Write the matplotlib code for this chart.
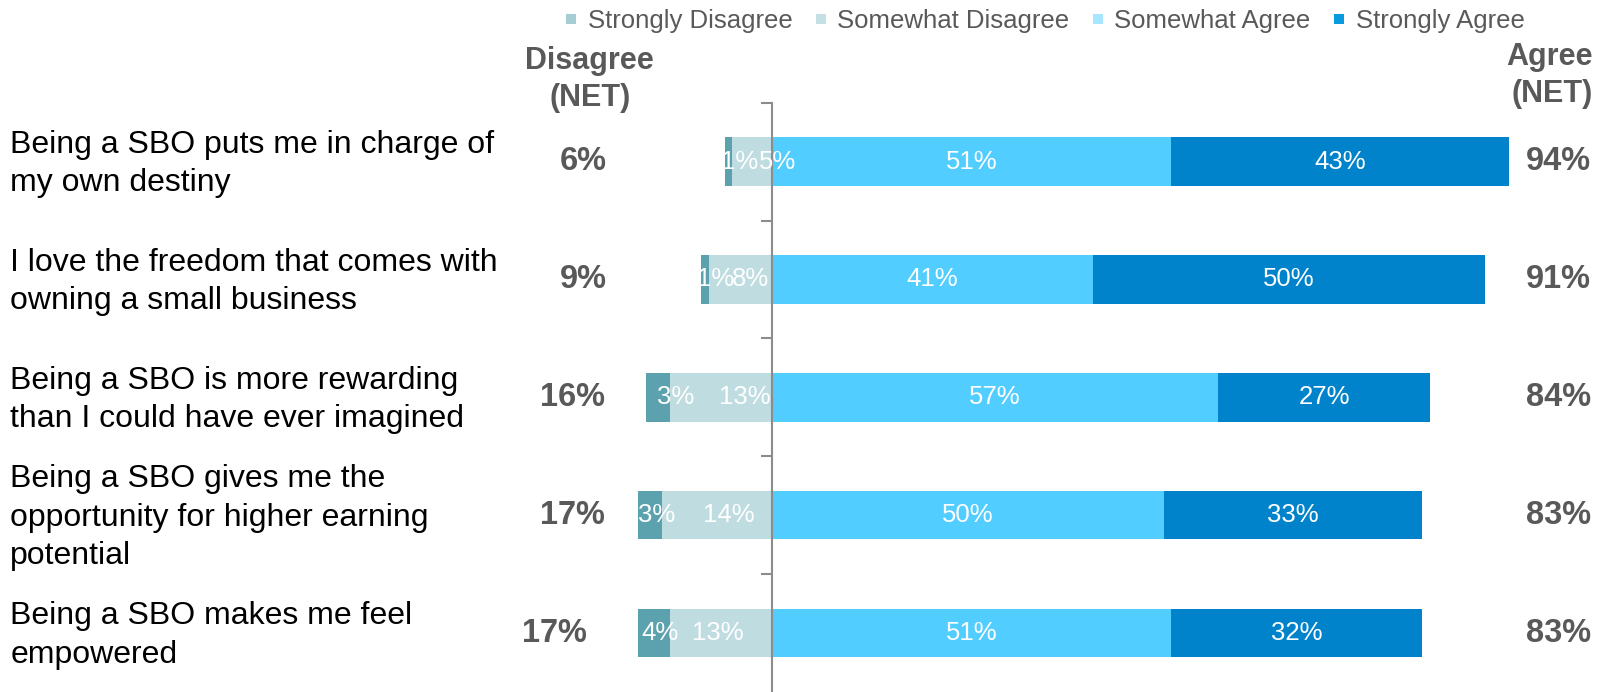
"""Diverging stacked bar chart of small business owner sentiment."""

import matplotlib
matplotlib.use("Agg")
import matplotlib.pyplot as plt
from matplotlib.lines import Line2D
from matplotlib.transforms import blended_transform_factory

plt.rcParams["font.family"] = ["Liberation Sans", "DejaVu Sans"]

statements = [
    "Being a SBO puts me in charge of\nmy own destiny",
    "I love the freedom that comes with\nowning a small business",
    "Being a SBO is more rewarding\nthan I could have ever imagined",
    "Being a SBO gives me the\nopportunity for higher earning\npotential",
    "Being a SBO makes me feel\nempowered",
]
strongly_disagree = [1, 1, 3, 3, 4]
somewhat_disagree = [5, 8, 13, 14, 13]
somewhat_agree = [51, 41, 57, 50, 51]
strongly_agree = [43, 50, 27, 33, 32]
disagree_net = [6, 9, 16, 17, 17]
agree_net = [94, 91, 84, 83, 83]
legend_labels = ["Strongly Disagree", "Somewhat Disagree", "Somewhat Agree", "Strongly Agree"]

# bar fills and the (paler) legend swatches
bar_colors = ["#5ba2ae", "#bfdce1", "#52cdff", "#0083ca"]
swatch_colors = ["#a6cdd4", "#c4e0e4", "#a8e6ff", "#0a9ade"]
grey = "#595959"

# hand-tuned nudges for the crowded disagree labels (in % units)
sd_nudge = [1.4, 1.4, 2.2, 0.8, 0.8]
swd_nudge = [3.3, 1.25, 3.1, 1.6, -0.4]
net_left_x = [-24.0, -24.0, -25.4, -25.4, -27.7]

fig = plt.figure(figsize=(16.11, 6.92), dpi=100)
ax = fig.add_axes([0.3816, 0.0, 0.584, 0.8516])

y = list(range(len(statements)))
h = 0.41
neg_swd = [-v for v in somewhat_disagree]
neg_sd = [-v for v in strongly_disagree]

ax.barh(y, neg_swd, height=h, color=bar_colors[1], linewidth=0)
ax.barh(y, neg_sd, left=neg_swd, height=h, color=bar_colors[0], linewidth=0)
ax.barh(y, somewhat_agree, height=h, color=bar_colors[2], linewidth=0)
ax.barh(y, strongly_agree, left=somewhat_agree, height=h, color=bar_colors[3], linewidth=0)

lab = dict(color="white", fontsize=18.5, ha="center", va="center")
for i in y:
    sa, sta = somewhat_agree[i], strongly_agree[i]
    swd, sd = somewhat_disagree[i], strongly_disagree[i]
    ax.text(sa / 2, i, f"{sa}%", **lab)
    ax.text(sa + sta / 2, i, f"{sta}%", **lab)
    ax.text(-swd / 2 + swd_nudge[i], i, f"{swd}%", **lab)
    ax.text(-swd - sd / 2 + sd_nudge[i], i, f"{sd}%", **lab)

    ax.text(net_left_x[i], i, f"{disagree_net[i]}%", color=grey, fontsize=23.5,
            fontweight="bold", ha="center", va="center")
    ax.text(100.4, i, f"{agree_net[i]}%", color=grey, fontsize=23.5,
            fontweight="bold", ha="center", va="center")

# statement labels at the far left of the figure
tr = blended_transform_factory(fig.transFigure, ax.transData)
for i, s in enumerate(statements):
    ax.text(0.0064, i + 0.02, s, transform=tr, fontsize=23, color="black",
            ha="left", va="center", linespacing=1.36)

# column headers
ax.text(-23.2, -0.70, "Disagree\n(NET)", color=grey, fontsize=22, fontweight="bold",
        ha="center", va="center", linespacing=1.3)
ax.text(104.7, -0.73, "Agree\n(NET)", color=grey, fontsize=22, fontweight="bold",
        ha="right", va="center", linespacing=1.3)

ax.set_xlim(-20, 100)
ax.set_ylim(4.5, -0.5)
ax.set_yticks([-0.5, 0.5, 1.5, 2.5, 3.5])
ax.set_yticklabels([])
ax.tick_params(axis="y", direction="out", length=8, width=1.5, color="#8c8c8c")
ax.set_xticks([])
for side in ("top", "right", "bottom"):
    ax.spines[side].set_visible(False)
ax.spines["left"].set_position(("data", 0))
ax.spines["left"].set_color("#8c8c8c")
ax.spines["left"].set_linewidth(1.5)
ax.set_facecolor("none")

handles = [Line2D([], [], marker="s", linestyle="none", markersize=7,
                  markerfacecolor=c, markeredgewidth=0) for c in swatch_colors]
fig.legend(handles, legend_labels, loc="center", bbox_to_anchor=(0.648, 0.969),
           ncol=4, frameon=False, fontsize=18.5, labelcolor=grey,
           handlelength=0.6, handletextpad=0.35, columnspacing=0.8)

fig.savefig("out.png", dpi=100)
